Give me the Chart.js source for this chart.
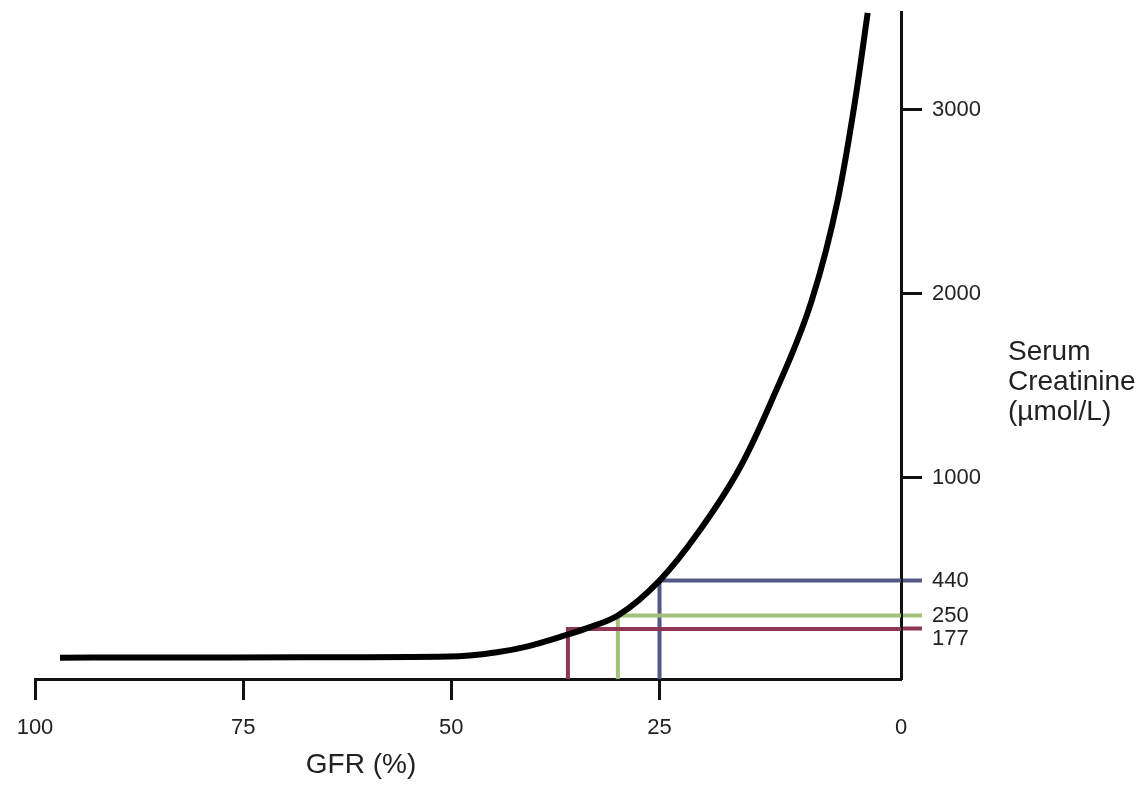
<!DOCTYPE html>
<html>
<head>
<meta charset="utf-8">
<script src="https://cdn.jsdelivr.net/npm/chart.js@4/dist/chart.umd.min.js"></script>
<style>
  html, body { margin: 0; padding: 0; background: #ffffff; }
  #wrap { width: 1147px; height: 785px; position: relative; }
</style>
</head>
<body>
<div id="wrap"><canvas id="c" width="1147" height="785"></canvas></div>
<script>
// ---- data ----
const gfrValues        = [97, 86, 68, 50.2, 47.8, 44.5, 40.7, 36.35, 33.35, 30, 25, 20.4, 15.3, 11.5, 6.7, 3.6, 1.5, 0];
const creatinineValues = [21, 22, 23, 27, 33, 50, 84, 142, 187, 250, 440, 698, 1057, 1421, 1965, 2508, 3052, 3525];

const markerGFR        = [36, 30, 25];
const markerCreatinine = [177, 250, 440];
const markerColors     = ['#8e3654', '#a3c17a', '#525985'];

const xTickValues = [100, 75, 50, 25];
const xEndLabel   = '0';
const yTickValues = [177, 250, 440, 1000, 2000, 3000];

const X_MAX = 100, X_MIN = -4;
const Y_MIN = -95, Y_MAX = 3530;

const xTitle = 'GFR (%)';
const yTitle = ['Serum', 'Creatinine', '(\u00b5mol/L)'];

// ---- build datasets ----
const curve = gfrValues.map((g, i) => ({ x: g, y: creatinineValues[i] }));
const datasets = [{
  data: curve,
  borderColor: '#000000',
  borderWidth: 6,
  pointRadius: 0,
  cubicInterpolationMode: 'monotone',
  fill: false,
  order: 0
}];
markerGFR.forEach((g, i) => {
  datasets.push({
    data: [
      { x: g, y: Y_MIN },
      { x: g, y: markerCreatinine[i] },
      { x: X_MIN, y: markerCreatinine[i] }
    ],
    borderColor: markerColors[i],
    borderWidth: 4,
    pointRadius: 0,
    tension: 0,
    fill: false,
    order: 1
  });
});

const FONT = '"Liberation Sans", Arial, sans-serif';

const titlesPlugin = {
  id: 'titles',
  afterDraw(chart) {
    const ctx = chart.ctx;
    const area = chart.chartArea;
    ctx.save();
    ctx.fillStyle = '#222222';
    ctx.font = '28px ' + FONT;
    ctx.textBaseline = 'middle';
    // x-axis title, under the axis
    ctx.textAlign = 'center';
    ctx.fillText(xTitle, area.left + 326, area.bottom + 86);
    // y-axis title, horizontal lines right of the axis
    ctx.textAlign = 'left';
    yTitle.forEach((t, i) => ctx.fillText(t, area.right + 107, area.top + 340 + i * 30));
    ctx.restore();
  }
};

new Chart(document.getElementById('c'), {
  type: 'line',
  data: { datasets },
  plugins: [titlesPlugin],
  options: {
    responsive: false,
    animation: false,
    layout: { padding: { left: 35, top: 12, right: 0, bottom: 0 } },
    plugins: { legend: { display: false }, tooltip: { enabled: false } },
    scales: {
      x: {
        type: 'linear',
        position: 'bottom',
        reverse: true,
        min: X_MIN,
        max: X_MAX,
        afterBuildTicks(scale) {
          scale.ticks = xTickValues.concat([X_MIN]).map(v => ({ value: v }));
        },
        afterFit(scale) {
          scale.height = 785 - 679;
          scale.paddingLeft = 0;
          scale.paddingRight = 0;
        },
        ticks: {
          autoSkip: false,
          maxRotation: 0,
          padding: 15,
          color: '#222222',
          font: { family: FONT, size: 22 },
          callback: (v) => (v === X_MIN ? xEndLabel : String(v))
        },
        grid: {
          drawOnChartArea: false,
          drawTicks: true,
          tickLength: 21,
          tickWidth: 3,
          tickColor: (ctx) => (ctx.tick && ctx.tick.value === X_MIN ? 'rgba(0,0,0,0)' : '#111111')
        },
        border: { display: true, color: '#111111', width: 3 }
      },
      y: {
        type: 'linear',
        position: 'right',
        min: Y_MIN,
        max: Y_MAX,
        afterBuildTicks(scale) {
          scale.ticks = yTickValues.map(v => ({ value: v }));
        },
        afterFit(scale) {
          scale.width = 1147 - 901;
          scale.paddingTop = 0;
          scale.paddingBottom = 0;
        },
        ticks: {
          autoSkip: false,
          padding: 10,
          color: '#222222',
          font: { family: FONT, size: 22, lineHeight: 0.9 },
          // the lowest label sits half a line under its tick so it does not collide with 250
          callback: (v) => (v === yTickValues[0] ? ['', String(v)] : String(v))
        },
        grid: {
          drawOnChartArea: false,
          drawTicks: true,
          tickLength: 21,
          tickWidth: (ctx) => (ctx.tick && markerCreatinine.includes(ctx.tick.value) ? 4 : 3),
          tickColor: (ctx) => {
            const k = ctx.tick ? markerCreatinine.indexOf(ctx.tick.value) : -1;
            return k >= 0 ? markerColors[k] : '#111111';
          }
        },
        border: { display: true, color: '#111111', width: 3 }
      }
    }
  }
});
</script>
</body>
</html>
